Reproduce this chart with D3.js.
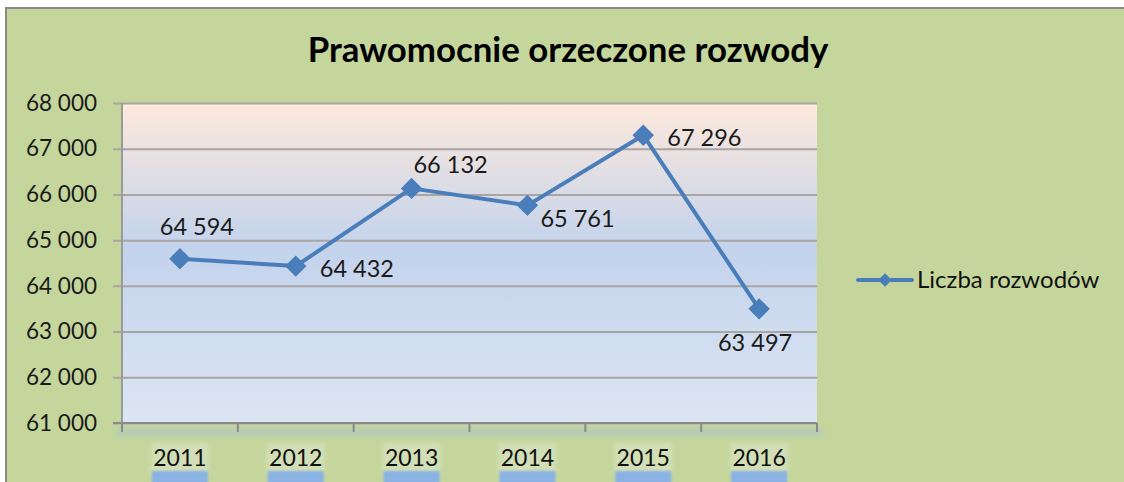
<!DOCTYPE html>
<html>
<head>
<meta charset="utf-8">
<script src="https://cdn.jsdelivr.net/npm/d3@7"></script>
<style>
  body { margin: 0; background: #fff; }
  svg { display: block; font-family: Lato, "Open Sans", sans-serif; }
</style>
</head>
<body>
<svg id="chart" width="1124" height="482"></svg>
<script>
// ----- dane -----
const years = ["2011", "2012", "2013", "2014", "2015", "2016"];
const values = [64594, 64432, 66132, 65761, 67296, 63497];
const yTicks = [61000, 62000, 63000, 64000, 65000, 66000, 67000, 68000];
const seriesName = "Liczba rozwodów";
const title = "Prawomocnie orzeczone rozwody";
// położenie etykiet danych względem punktu
const labelPos = ["above", "right", "aboveRight", "belowRight", "right", "below"];

const fmt = v => d3.format(",")(v).replace(/,/g, " ");

const svg = d3.select("#chart");
const W = 1124, H = 482;
const plot = { left: 122, top: 103, right: 817, bottom: 423 };

const defs = svg.append("defs");
const grad = defs.append("linearGradient").attr("id", "plotGrad")
    .attr("x1", 0).attr("y1", 0).attr("x2", 0).attr("y2", 1);
grad.append("stop").attr("offset", "0%").attr("stop-color", "#fde9dc");
grad.append("stop").attr("offset", "45%").attr("stop-color", "#c3d3ec");
grad.append("stop").attr("offset", "100%").attr("stop-color", "#dde5f3");
defs.append("filter").attr("id", "blur").attr("x", "-20%").attr("y", "-50%")
    .attr("width", "140%").attr("height", "200%")
    .append("feGaussianBlur").attr("stdDeviation", 2);
defs.append("filter").attr("id", "blurS").attr("x", "-20%").attr("y", "-50%")
    .attr("width", "140%").attr("height", "200%")
    .append("feGaussianBlur").attr("stdDeviation", 0.8);

// tło wykresu + ramka
svg.append("rect").attr("x", 7).attr("y", 9).attr("width", W - 7).attr("height", H - 9)
    .attr("fill", "#c4d69c");
svg.append("line").attr("x1", 6).attr("x2", W).attr("y1", 8).attr("y2", 8)
    .attr("stroke", "#8a8a8a").attr("stroke-width", 2);
svg.append("line").attr("x1", 6).attr("x2", 6).attr("y1", 7).attr("y2", H)
    .attr("stroke", "#8a8a8a").attr("stroke-width", 2);

// tytuł
svg.append("text")
    .attr("x", 568).attr("y", 62)
    .attr("text-anchor", "middle")
    .style("font-size", "34.8px").style("font-weight", "bold").style("fill", "#000")
    .text(title);

// skale
const x = d3.scaleBand().domain(years).range([plot.left, plot.right]).padding(0);
const cx = d => x(d) + x.bandwidth() / 2;
const y = d3.scaleLinear().domain([61000, 68000]).range([plot.bottom, plot.top]);

// obszar kreślenia
svg.append("rect")
    .attr("x", plot.left).attr("y", plot.top)
    .attr("width", plot.right - plot.left).attr("height", plot.bottom - plot.top)
    .attr("fill", "url(#plotGrad)");

// linie siatki i oś Y
const yAxis = svg.append("g").attr("transform", `translate(${plot.left},0)`)
    .call(d3.axisLeft(y).tickValues(yTicks).tickFormat(fmt)
        .tickSize(-(plot.right - plot.left)).tickPadding(25));
yAxis.select(".domain").remove();
yAxis.selectAll(".tick line").attr("stroke", "#a8a5a3").attr("stroke-width", 2).attr("x1", -9);
yAxis.selectAll(".tick text").style("font-size", "22.5px").style("fill", "#1a1a1a")
    .style("font-family", "Lato, sans-serif");
svg.append("line").attr("x1", plot.left).attr("x2", plot.left)
    .attr("y1", plot.top).attr("y2", plot.bottom + 8)
    .attr("stroke", "#9a9a9a").attr("stroke-width", 2);

// poświata osi X
svg.append("rect").attr("x", plot.left - 6).attr("y", plot.bottom + 4)
    .attr("width", plot.right - plot.left + 12).attr("height", 10)
    .attr("fill", "#b6cbb9").attr("opacity", 0.8).attr("filter", "url(#blur)");

// oś X
svg.append("line").attr("x1", plot.left - 9).attr("x2", plot.right)
    .attr("y1", plot.bottom).attr("y2", plot.bottom)
    .attr("stroke", "#8a8a8a").attr("stroke-width", 2);
const bounds = years.map(d => x(d)).concat([plot.right]);
svg.append("g").selectAll("line").data(bounds).enter().append("line")
    .attr("x1", d => d).attr("x2", d => d)
    .attr("y1", plot.bottom).attr("y2", plot.bottom + 9)
    .attr("stroke", "#8a8a8a").attr("stroke-width", 2);

// etykiety lat z efektem poświaty
const xl = svg.append("g").selectAll("g").data(years).enter().append("g");
xl.append("rect")
    .attr("x", d => cx(d) - 29).attr("y", 443).attr("width", 58).attr("height", 30)
    .attr("fill", "#d2dfb6").attr("filter", "url(#blur)");
xl.append("rect")
    .attr("x", d => cx(d) - 28).attr("y", 471).attr("width", 56).attr("height", 16)
    .attr("fill", "#8ab2e3").attr("filter", "url(#blurS)");
xl.append("text")
    .attr("x", d => cx(d)).attr("y", 466)
    .attr("text-anchor", "middle")
    .style("font-size", "23px").style("fill", "#111")
    .text(d => d);

// linia serii
const pts = years.map((d, i) => ({ year: d, value: values[i], pos: labelPos[i] }));
const line = d3.line().x(d => cx(d.year)).y(d => y(d.value));
svg.append("path").datum(pts)
    .attr("d", line).attr("fill", "none")
    .attr("stroke", "#4a7ebb").attr("stroke-width", 4).attr("stroke-linejoin", "round");

const diamond = d3.symbol().type(d3.symbolSquare).size(230);
svg.append("g").selectAll("path").data(pts).enter().append("path")
    .attr("d", diamond)
    .attr("transform", d => `translate(${cx(d.year)},${y(d.value)}) rotate(45)`)
    .attr("fill", "#4a7ebb");

// etykiety danych
const off = {
    above: { dx: 17, dy: -24, anchor: "middle" },
    aboveRight: { dx: 39, dy: -15, anchor: "middle" },
    right: { dx: 24, dy: 11, anchor: "start" },
    belowRight: { dx: 13, dy: 22, anchor: "start" },
    below: { dx: -4, dy: 42, anchor: "middle" }
};
svg.append("g").selectAll("text").data(pts).enter().append("text")
    .attr("x", d => cx(d.year) + off[d.pos].dx)
    .attr("y", d => y(d.value) + off[d.pos].dy)
    .attr("text-anchor", d => off[d.pos].anchor)
    .style("font-size", "23.5px").style("fill", "#1a1a1a")
    .text(d => fmt(d.value));

// legenda
const lg = svg.append("g").attr("transform", "translate(858,280)");
lg.append("line").attr("x1", 0).attr("x2", 54).attr("y1", 0).attr("y2", 0)
    .attr("stroke", "#4a7ebb").attr("stroke-width", 4).attr("stroke-linecap", "round");
lg.append("path").attr("d", d3.symbol().type(d3.symbolSquare).size(90))
    .attr("transform", "translate(27,0) rotate(45)").attr("fill", "#4a7ebb");
lg.append("text").attr("x", 59).attr("y", 8)
    .style("font-size", "24px").style("fill", "#111")
    .text(seriesName);
</script>
</body>
</html>
